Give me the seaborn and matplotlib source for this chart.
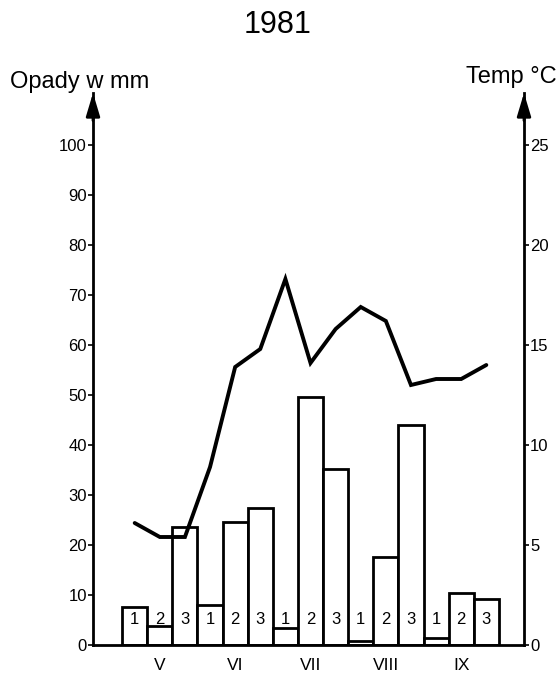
import numpy as np
import pandas as pd
import matplotlib
matplotlib.use("Agg")
import matplotlib.pyplot as plt
import seaborn as sns
from matplotlib import font_manager

# ---------------- data ----------------
title = "1981"
months = ["V", "VI", "VII", "VIII", "IX"]
decades = ["1", "2", "3"]
precip_mm = [7.6, 3.8, 23.7, 8.0, 24.6, 27.5, 3.4, 49.6, 35.3, 0.9, 17.6, 44.0, 1.4, 10.4, 9.3]
temp_c = [6.1, 5.4, 5.4, 8.9, 13.9, 14.8, 18.3, 14.1, 15.8, 16.9, 16.2, 13.0, 13.3, 13.3, 14.0]
left_ticks = [0, 10, 20, 30, 40, 50, 60, 70, 80, 90, 100]
right_ticks = [0, 5, 10, 15, 20, 25]
left_label = "Opady w mm"
right_label = "Temp °C"

# ---------------- style ----------------
sns.set_theme(style="white")
avail = {f.name for f in font_manager.fontManager.ttflist}
base = "Liberation Sans" if "Liberation Sans" in avail else "DejaVu Sans"
narrow = "Liberation Sans Narrow" if "Liberation Sans Narrow" in avail else base
plt.rcParams["font.family"] = [base, "DejaVu Sans"]
plt.rcParams["text.color"] = "black"

df = pd.DataFrame({
    "month": [m for m in months for _ in decades],
    "decade": [d for _ in months for d in decades],
    "precip": precip_mm,
    "temp": temp_c,
})
df["pos"] = np.arange(len(df))

W, H = 560, 674
fig = plt.figure(figsize=(W / 100, H / 100), dpi=100)
x0, x1, ybot, ytop = 93, 524, 645, 93
ax = fig.add_axes([x0 / W, (H - ybot) / H, (x1 - x0) / W, (ybot - ytop) / H])

sns.barplot(data=df, x="pos", y="precip", native_scale=True, width=1.0,
            color="white", saturation=1, edgecolor="black", linewidth=2.0,
            ax=ax, errorbar=None)

ymax = 110.4
ax.set_xlim(-1.66, 15.5)
ax.set_ylim(0, ymax)

ax2 = ax.twinx()
sns.lineplot(data=df, x="pos", y="temp", color="black", linewidth=2.8,
             sort=False, ax=ax2, solid_joinstyle="miter")
ax2.set_ylim(0, ymax / 4)
ax2.set_xlim(-1.66, 15.5)

# decade numbers in bars
for p, d in zip(df["pos"], df["decade"]):
    ax.text(p, 5.0, d, ha="center", va="center", fontsize=12, color="black", zorder=5)

# ticks
ax.set_yticks(left_ticks)
ax.set_yticklabels([str(t) for t in left_ticks])
ax2.set_yticks(right_ticks)
ax2.set_yticklabels([str(t) for t in right_ticks])
month_pos = np.arange(len(months)) * len(decades) + 1
ax.set_xticks(month_pos)
ax.set_xticklabels(months)
ax.tick_params(axis="x", length=0, pad=9, labelsize=12.5, colors="black")
ax.tick_params(axis="y", left=True, direction="out", length=3.5, width=1.2, pad=1,
               labelsize=12, colors="black")
ax2.tick_params(axis="y", right=True, direction="out", length=3.5, width=1.2, pad=1,
                labelsize=12, colors="black")
ax.set_xlabel("")
ax.set_ylabel("")
ax2.set_xlabel("")
ax2.set_ylabel("")

for s in ["top", "right"]:
    ax.spines[s].set_visible(False)
for s in ["top", "left", "bottom"]:
    ax2.spines[s].set_visible(False)
for sp in [ax.spines["left"], ax.spines["bottom"], ax2.spines["right"]]:
    sp.set_color("black")
    sp.set_linewidth(2.0)

# arrow heads on vertical axes
for a, xf in [(ax, 0.0), (ax2, 1.0)]:
    a.annotate("", xy=(xf, 1.0), xycoords="axes fraction", xytext=(xf, 0.95),
               arrowprops=dict(arrowstyle="-|>,head_length=1.0,head_width=0.3",
                               color="black", lw=2, mutation_scale=14,
                               shrinkA=0, shrinkB=0),
               annotation_clip=False)

# texts
fig.text(278 / W, 1 - 25 / H, title, ha="center", va="center", fontsize=22,
         family=[narrow, "DejaVu Sans"])
fig.text(10 / W, 1 - 88 / H, left_label, ha="left", va="baseline", fontsize=17)
fig.text(557 / W, 1 - 83 / H, right_label, ha="right", va="baseline", fontsize=17)

fig.savefig("out.png", dpi=100)
